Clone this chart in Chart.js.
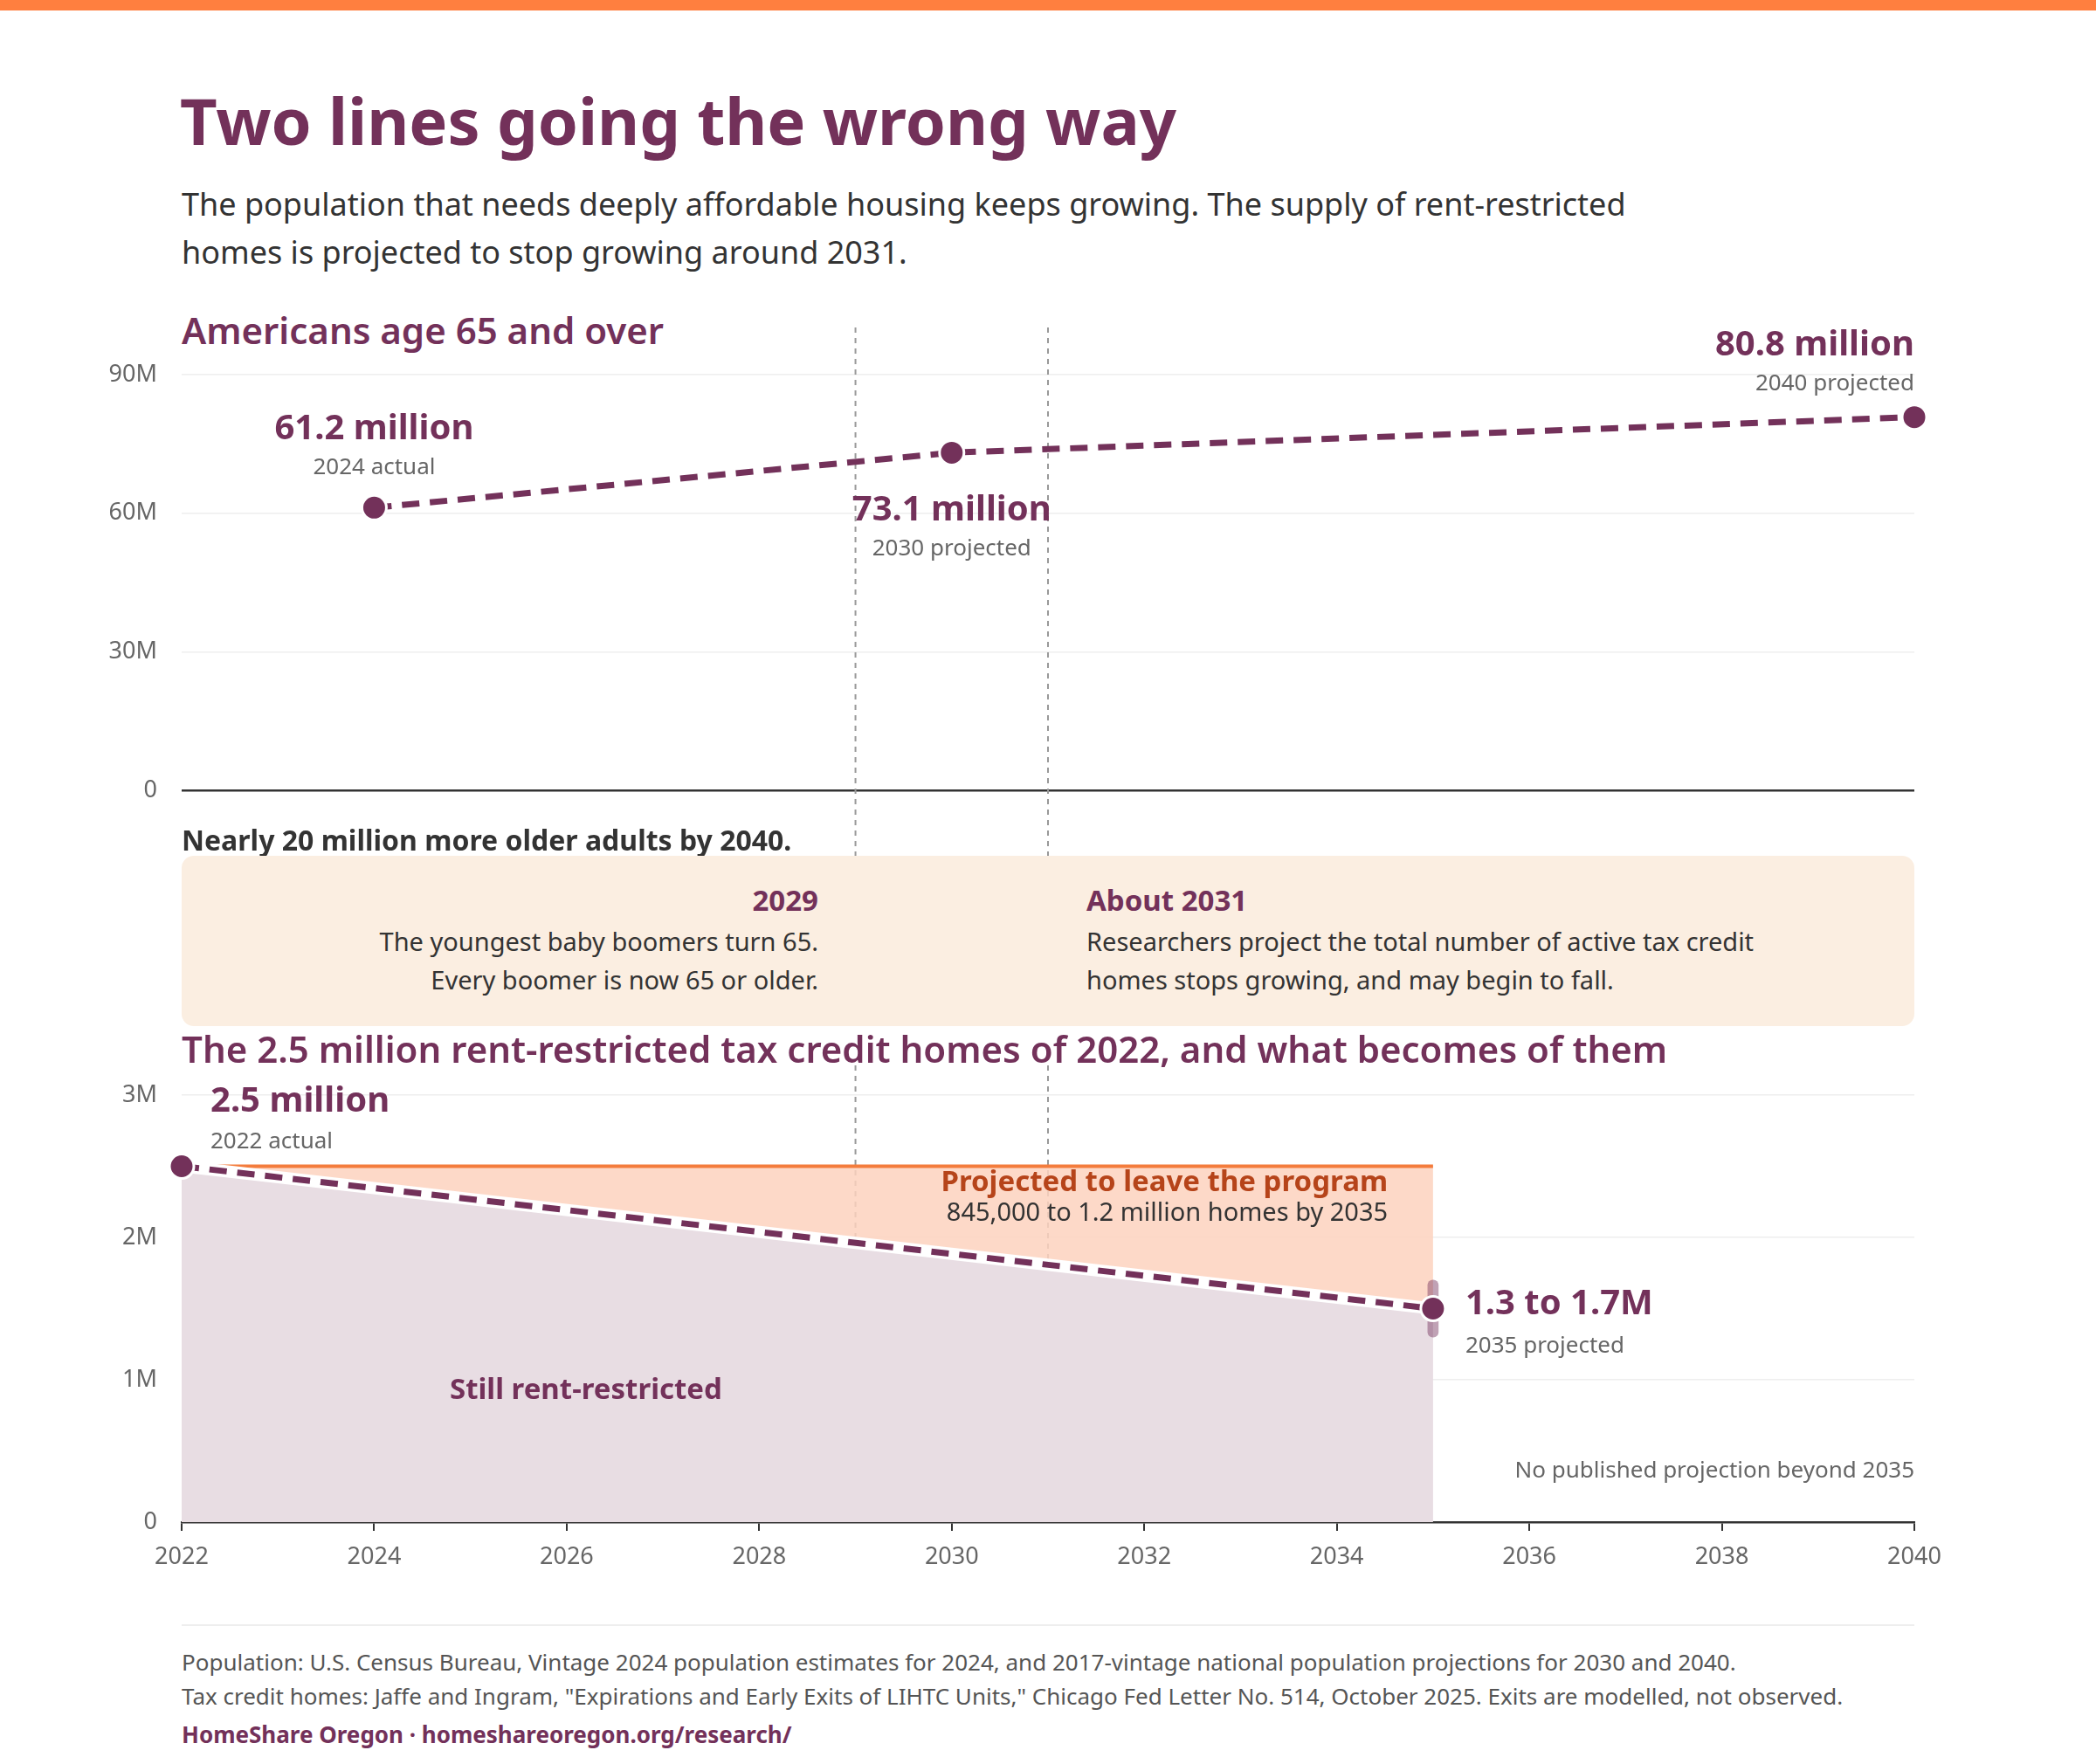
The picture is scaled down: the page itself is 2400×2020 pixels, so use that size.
<!DOCTYPE html>
<html>
<head>
<meta charset="utf-8">
<script src="https://cdn.jsdelivr.net/npm/chart.js@4"></script>
<style>
  body { margin: 0; width: 2400px; height: 2020px; background: #fff; font-family: "Noto Sans", sans-serif; position: relative; overflow: hidden; }
  .abs { position: absolute; white-space: nowrap; }
  #bar { left: 0; top: 0; width: 2400px; height: 12px; background: #ff7f3f; }
  h1 { position: absolute; left: 206px; top: 88px; margin: 0; font-size: 74px; font-weight: 700; color: #73315a; line-height: 100px; }
  .sub { left: 208px; top: 206px; font-size: 36px; line-height: 55px; color: #333; }
  .ctitle { font-size: 42px; font-weight: 600; color: #73315a; line-height: 50px; }
  #box { left: 208px; top: 980px; width: 1984px; height: 195px; background: #fbeee1; border-radius: 14px; }
  .bt { font-size: 33px; font-weight: 700; color: #73315a; }
  .bb { font-size: 29px; color: #333; line-height: 44px; }
  canvas { position: absolute; left: 0; }
  .foot { left: 208px; font-size: 26px; color: #555; }
</style>
</head>
<body>
<div id="bar" class="abs"></div>
<h1>Two lines going the wrong way</h1>
<div class="abs sub">The population that needs deeply affordable housing keeps growing. The supply of rent-restricted<br>homes is projected to stop growing around 2031.</div>
<div class="abs ctitle" style="left:208px;top:353px">Americans age 65 and over</div>

<div style="position:absolute;left:0;top:370px;width:2400px;height:610px"><canvas id="top"></canvas></div>
<div class="abs" style="left:208px;top:940px;font-size:32px;font-weight:700;color:#333">Nearly 20 million more older adults by 2040.</div>

<div id="box" class="abs"></div>
<div class="abs bt" style="right:1463px;top:1008px;text-align:right">2029</div>
<div class="abs bb" style="right:1463px;top:1056px;text-align:right">The youngest baby boomers turn 65.<br>Every boomer is now 65 or older.</div>
<div class="abs bt" style="left:1244px;top:1008px">About 2031</div>
<div class="abs bb" style="left:1244px;top:1056px">Researchers project the total number of active tax credit<br>homes stops growing, and may begin to fall.</div>

<div class="abs ctitle" style="left:208px;top:1176px">The 2.5 million rent-restricted tax credit homes of 2022, and what becomes of them</div>
<div style="position:absolute;left:0;top:1180px;width:2400px;height:650px"><canvas id="bot"></canvas></div>

<div class="abs" style="left:208px;top:1860px;width:1984px;height:2px;background:#eee"></div>
<div class="abs foot" style="top:1885px">Population: U.S. Census Bureau, Vintage 2024 population estimates for 2024, and 2017-vintage national population projections for 2030 and 2040.</div>
<div class="abs foot" style="top:1924px">Tax credit homes: Jaffe and Ingram, "Expirations and Early Exits of LIHTC Units," Chicago Fed Letter No. 514, October 2025. Exits are modelled, not observed.</div>
<div class="abs foot" style="top:1968px;font-weight:700;color:#73315a">HomeShare Oregon · homeshareoregon.org/research/</div>

<script>
// ---- data ----
const popYears = [2024, 2030, 2040];
const popValues = [61.2, 73.1, 80.8];          // millions
const popTicks = [0, 30, 60, 90];
const homeYears = [2022, 2035];
const homeValues = [2.5, 1.5];                  // millions, midpoint projection
const homeStart = [2.5, 2.5];                   // 2022 stock held flat
const homeRange = [1.3, 1.7];                   // 2035 range
const eventYears = [2029, 2031];
const xTicks = [2022, 2024, 2026, 2028, 2030, 2032, 2034, 2036, 2038, 2040];

const PLUM = '#73315a', FONT = '"Noto Sans", sans-serif';
Chart.defaults.font.family = FONT;
Chart.defaults.animation = false;

// dashed event lines + text labels
function overlay(labels) {
  return {
    id: 'overlay',
    beforeDatasetsDraw(chart) {
      const c = chart.ctx, x = chart.scales.x;
      c.save();
      c.strokeStyle = '#999'; c.lineWidth = 2; c.setLineDash([6, 6]);
      eventYears.forEach(y => {
        const px = x.getPixelForValue(y);
        c.beginPath(); c.moveTo(px, chart.options.evTop); c.lineTo(px, chart.options.evBottom); c.stroke();
      });
      c.restore();
    },
    afterDraw(chart) {
      const c = chart.ctx, x = chart.scales.x, y = chart.scales.y;
      c.save(); c.textBaseline = 'middle';
      labels.forEach(l => {
        c.font = (l.bold ? '700 ' : '400 ') + l.size + 'px ' + FONT;
        c.fillStyle = l.color; c.textAlign = l.align || 'center';
        c.fillText(l.text, x.getPixelForValue(l.x) + (l.dx || 0), y.getPixelForValue(l.y) + (l.dy || 0));
      });
      c.restore();
    }
  };
}

const gray = '#666';
new Chart(document.getElementById('top'), {
  type: 'line',
  data: {
    datasets: [
      { data: popYears.map((v, i) => ({ x: v, y: popValues[i] })), borderColor: PLUM, borderWidth: 7, borderDash: [20, 12],
        pointRadius: 14, pointBackgroundColor: PLUM, pointBorderColor: '#fff', pointBorderWidth: 3, clip: false }
    ]
  },
  options: {
    responsive: true, maintainAspectRatio: false,
    evTop: 5, evBottom: 610,
    layout: { padding: { top: 59, right: 208, bottom: 75, left: 0 } },
    plugins: { legend: { display: false }, tooltip: { enabled: false } },
    scales: {
      x: { type: 'linear', min: 2022, max: 2040, display: false },
      y: { min: 0, max: 90, afterBuildTicks: a => { a.ticks = popTicks.map(v => ({ value: v })); },
        afterFit: a => { a.width = 208; },
        border: { display: false },
        grid: { color: c => c.tick.value === 0 ? '#333' : '#eee', lineWidth: c => c.tick.value === 0 ? 2.5 : 1.5, drawTicks: false },
        ticks: { color: gray, font: { size: 27 }, padding: 28, callback: v => v === 0 ? '0' : v + 'M' } }
    }
  },
  plugins: [overlay([
    { text: '61.2 million', x: 2024, y: 61.2, dy: -90, size: 40, bold: true, color: PLUM },
    { text: '2024 actual', x: 2024, y: 61.2, dy: -46, size: 26, color: gray },
    { text: '73.1 million', x: 2030, y: 73.1, dy: 66, size: 40, bold: true, color: PLUM },
    { text: '2030 projected', x: 2030, y: 73.1, dy: 110, size: 26, color: gray },
    { text: '80.8 million', x: 2040, y: 80.8, dy: -82, size: 40, bold: true, color: PLUM, align: 'right' },
    { text: '2040 projected', x: 2040, y: 80.8, dy: -38, size: 26, color: gray, align: 'right' }
  ])]
});

new Chart(document.getElementById('bot'), {
  type: 'line',
  data: {
    datasets: [
      { data: homeYears.map((v, i) => ({ x: v, y: homeStart[i] })), borderColor: '#f47c3c', borderWidth: 4,
        pointRadius: 0, fill: { target: 1 }, backgroundColor: 'rgba(253,210,190,0.85)', order: 3 },
      { data: homeYears.map((v, i) => ({ x: v, y: homeValues[i] })), borderColor: '#fff', borderWidth: 14,
        pointRadius: 0, fill: 'origin', backgroundColor: '#e8dde3', order: 2 },
      { type: 'bar', data: [{ x: 2035, y: homeRange }], backgroundColor: 'rgba(115,49,90,0.45)',
        barThickness: 12, borderRadius: 6, borderSkipped: false, order: 1 },
      { data: homeYears.map((v, i) => ({ x: v, y: homeValues[i] })), borderColor: PLUM, borderWidth: 7, borderDash: [20, 12],
        pointRadius: 14, pointBackgroundColor: PLUM, pointBorderColor: '#fff', pointBorderWidth: 3, order: 0, clip: false }
    ]
  },
  options: {
    responsive: true, maintainAspectRatio: false,
    evTop: 40, evBottom: 563,
    layout: { padding: { top: 74, right: 208, bottom: 0, left: 0 } },
    plugins: { legend: { display: false }, tooltip: { enabled: false } },
    scales: {
      x: { type: 'linear', min: 2022, max: 2040, offset: false,
        afterBuildTicks: a => { a.ticks = xTicks.map(v => ({ value: v })); },
        afterFit: a => { a.height = 87; },
        border: { color: '#333', width: 2.5 },
        grid: { display: true, offset: false, drawOnChartArea: false, color: '#333', tickLength: 10, lineWidth: 2 },
        ticks: { color: gray, font: { size: 27 }, padding: 14, callback: v => String(v) } },
      y: { min: 0, max: 3, afterBuildTicks: a => { a.ticks = [0, 1, 2, 3].map(v => ({ value: v })); },
        afterFit: a => { a.width = 208; },
        border: { display: false },
        grid: { color: '#eee', lineWidth: 1.5, drawTicks: false },
        ticks: { color: gray, font: { size: 27 }, padding: 28, callback: v => v === 0 ? '0' : v + 'M' } }
    }
  },
  plugins: [overlay([
    { text: '2.5 million', x: 2022, y: 2.5, dx: 33, dy: -74, size: 40, bold: true, color: PLUM, align: 'left' },
    { text: '2022 actual', x: 2022, y: 2.5, dx: 33, dy: -28, size: 26, color: gray, align: 'left' },
    { text: '1.3 to 1.7M', x: 2035, y: 1.5, dx: 37, dy: -5, size: 40, bold: true, color: PLUM, align: 'left' },
    { text: '2035 projected', x: 2035, y: 1.5, dx: 37, dy: 43, size: 26, color: gray, align: 'left' },
    { text: 'Projected to leave the program', x: 2034.53, y: 2.38, size: 33, bold: true, color: '#b6441a', align: 'right' },
    { text: '845,000 to 1.2 million homes by 2035', x: 2034.53, y: 2.17, size: 29, color: '#333', align: 'right' },
    { text: 'Still rent-restricted', x: 2026.2, y: 0.92, size: 33, bold: true, color: PLUM },
    { text: 'No published projection beyond 2035', x: 2040, y: 0.36, size: 26, color: gray, align: 'right' }
  ])]
});
</script>
</body>
</html>
